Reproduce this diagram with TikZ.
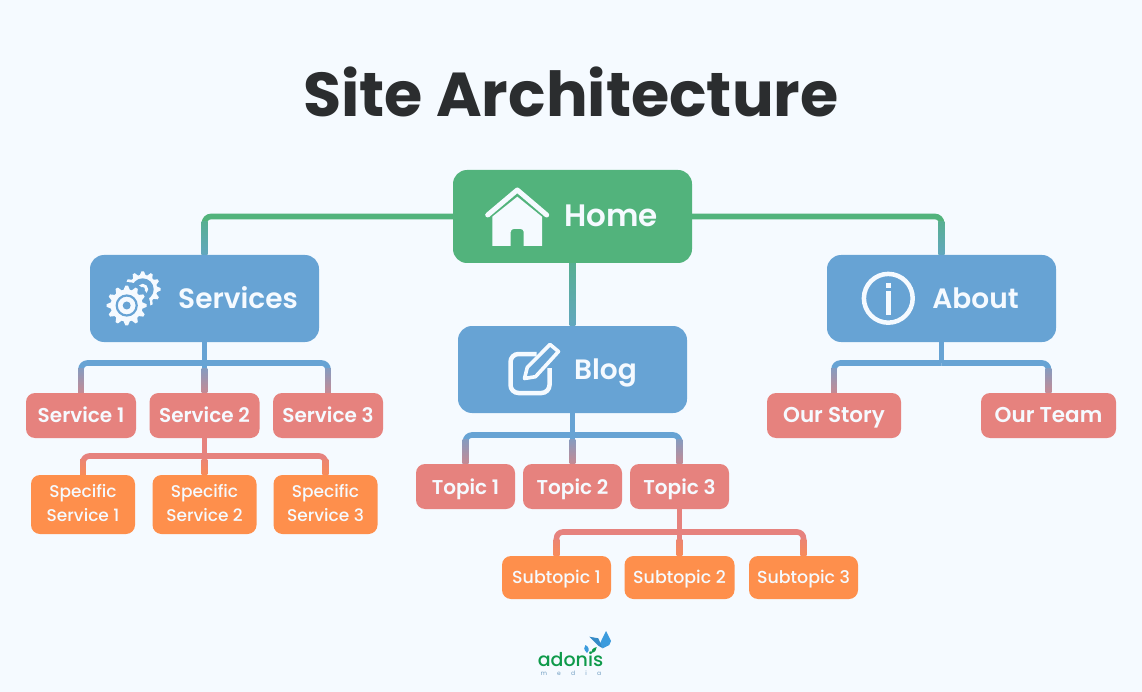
\documentclass[tikz,border=0pt]{standalone}
\usepackage{fontspec}
\setmainfont{Poppins}
\newfontfamily\psemi{Poppins}[UprightFont=* SemiBold]
\newfontfamily\pmed{Poppins}[UprightFont=* Medium]
\usetikzlibrary{calc}
\pgfdeclarelayer{backdrop}
\pgfdeclarelayer{links}
\pgfsetlayers{backdrop,links,main}
\definecolor{bgc}{HTML}{F5FAFF}
\definecolor{homec}{HTML}{52B37C}
\definecolor{secc}{HTML}{67A3D4}
\definecolor{thirdc}{HTML}{E6827E}
\definecolor{fourc}{HTML}{FE8F4C}
\definecolor{titlec}{HTML}{2B2D2F}
\definecolor{iconc}{HTML}{F5FAFF}
\definecolor{logog}{HTML}{0E9A4A}
\definecolor{logob}{HTML}{3B9BDD}
\definecolor{logom}{HTML}{6F9CC0}
\pgfdeclareverticalshading{fadegreen}{100bp}{color(0bp)=(secc); color(100bp)=(homec)}
\pgfdeclareverticalshading{fadeblue}{100bp}{color(0bp)=(thirdc); color(100bp)=(secc)}
\pgfdeclareverticalshading{fadered}{100bp}{color(0bp)=(fourc); color(100bp)=(thirdc)}
\tikzset{
  x=1pt,y=-1pt,
  boxbase/.style={anchor=center,text=iconc,inner sep=0pt,align=center},
  bigbox/.style={boxbase,fill=secc,rounded corners=14pt,minimum width=229pt,minimum height=87pt,
     font=\fontsize{28}{30}\psemi,text height=20pt,text depth=0pt},
  homebox/.style={bigbox,fill=homec,minimum width=239pt,minimum height=93pt,font=\fontsize{31}{32}\psemi},
  thirdbox/.style={boxbase,fill=thirdc,rounded corners=9pt,minimum height=45pt,
     font=\fontsize{20}{22}\psemi,text height=14pt,text depth=0pt},
  topicbox/.style={thirdbox,minimum width=99pt,text height=15pt},
  specbox/.style={boxbase,fill=fourc,rounded corners=9pt,minimum width=104pt,minimum height=59pt,
     font=\fontsize{17}{24}\pmed,text depth=4pt},
  subbox/.style={boxbase,fill=fourc,rounded corners=9pt,minimum width=109pt,minimum height=43pt,
     font=\fontsize{17.4}{24}\pmed,text height=11pt,text depth=0pt},
  conn/.style={line width=5.6pt,rounded corners=6.5pt},
  iconline/.style={draw=iconc,line width=4.5pt,fill=none},
}
% fade on the last stretch of a connector, above a node
\newcommand{\fadelink}[3]{%
  \shade[shading=#3] ($(#1.north)+(-2.8,-#2)$) rectangle ($(#1.north)+(2.8,0)$);}
\begin{document}
\begin{tikzpicture}
\useasboundingbox (0,0) rectangle (1142,692);
\begin{pgfonlayer}{backdrop}
\fill[bgc] (0,0) rectangle (1142,692);
\end{pgfonlayer}

\node[font=\fontsize{62}{66}\bfseries,text=titlec,inner sep=0pt,anchor=center] (title) at (571,92) {Site Architecture};

\path
 node[homebox] (home) at (572.5,216.5) {\hspace*{77pt}Home}
 node[bigbox] (services) at (204.5,298.5) {\hspace*{67pt}Services}
 node[bigbox] (blog) at (572.5,369.5) {\hspace*{66pt}Blog}
 node[bigbox] (about) at (941.5,298.5) {\hspace*{68pt}About}
 node[thirdbox,minimum width=110pt] (s1) at (81,415.5) {Service 1}
 node[thirdbox,minimum width=110pt] (s2) at (204.5,415.5) {Service 2}
 node[thirdbox,minimum width=110pt] (s3) at (328,415.5) {Service 3}
 node[specbox] (sp1) at (83,504.5) {Specific\\Service 1}
 node[specbox] (sp2) at (204.5,504.5) {Specific\\Service 2}
 node[specbox] (sp3) at (325.5,504.5) {Specific\\Service 3}
 node[topicbox] (t1) at (465.5,486.5) {Topic 1}
 node[topicbox] (t2) at (572.5,486.5) {Topic 2}
 node[topicbox] (t3) at (679.5,486.5) {Topic 3}
 node[subbox] (st1) at (556.5,577.5) {Subtopic 1}
 node[subbox,minimum width=110pt] (st2) at (679.5,577.5) {Subtopic 2}
 node[subbox] (st3) at (803.5,577.5) {Subtopic 3}
 node[thirdbox,minimum width=134pt,font=\fontsize{21.5}{22}\psemi] (o1) at (834,415.5) {Our Story}
 node[thirdbox,minimum width=135pt,font=\fontsize{21.5}{22}\psemi] (o2) at (1048.5,415.5) {Our Team};

\coordinate (js) at (204.5,363);
\coordinate (js2) at (204.5,456);
\coordinate (jb) at (572.5,435);
\coordinate (jt) at (679.5,532);
\coordinate (ja) at (941.5,363);

\begin{pgfonlayer}{links}
\draw[conn,homec] (home.west) -| (services.north);
\draw[conn,homec] (home.east) -| (about.north);
\draw[conn,homec] (home.south) -- (blog.north);
\fadelink{services}{33}{fadegreen}
\fadelink{about}{33}{fadegreen}
\fadelink{blog}{63}{fadegreen}
% Services
\draw[conn,secc] (services.south) -- (js);
\draw[conn,secc] (js) -| (s1.north);
\draw[conn,secc] (js) -| (s3.north);
\draw[conn,secc] (js) -- (s2.north);
\fadelink{s1}{24}{fadeblue}
\fadelink{s2}{24}{fadeblue}
\fadelink{s3}{24}{fadeblue}
% Service 2
\draw[conn,thirdc] (s2.south) -- (js2);
\draw[conn,thirdc] (js2) -| (sp1.north);
\draw[conn,thirdc] (js2) -| (sp3.north);
\draw[conn,thirdc] (js2) -- (sp2.north);
\fadelink{sp1}{15}{fadered}
\fadelink{sp2}{15}{fadered}
\fadelink{sp3}{15}{fadered}
% Blog
\draw[conn,secc] (blog.south) -- (jb);
\draw[conn,secc] (jb) -| (t1.north);
\draw[conn,secc] (jb) -| (t3.north);
\draw[conn,secc] (jb) -- (t2.north);
\fadelink{t1}{24}{fadeblue}
\fadelink{t2}{24}{fadeblue}
\fadelink{t3}{24}{fadeblue}
% Topic 3
\draw[conn,thirdc] (t3.south) -- (jt);
\draw[conn,thirdc] (jt) -| (st1.north);
\draw[conn,thirdc] (jt) -| (st3.north);
\draw[conn,thirdc] (jt) -- (st2.north);
\fadelink{st1}{16}{fadered}
\fadelink{st2}{16}{fadered}
\fadelink{st3}{16}{fadered}
% About
\draw[conn,secc] (about.south) -- (ja);
\draw[conn,secc] (ja) -| (o1.north);
\draw[conn,secc] (ja) -| (o2.north);
\fadelink{o1}{24}{fadeblue}
\fadelink{o2}{24}{fadeblue}
\end{pgfonlayer}

% house icon
\fill[iconc] (492.3,246) -- (492.3,216.7) -- (517.3,196.7) -- (542,216.7) -- (542,246)
  -- (523.7,246) -- (523.7,232) arc[start angle=0,end angle=-90,radius=3] -- (513.7,229)
  arc[start angle=-90,end angle=-180,radius=3] -- (510.7,246) -- cycle;
\draw[draw=iconc,line width=5pt,line cap=round,line join=round] (487.7,215) -- (517.3,190) -- (546.7,215);

% edit icon
\draw[iconline,rounded corners=8pt] (536.5,354) -- (510.5,354) -- (510.5,393) -- (549.5,393) -- (549.5,368);
\draw[draw=iconc,line width=3.6pt,line join=round] (524.5,378.5) -- (527.3,367.3) -- (550,344.5) -- (558.5,351.5) -- (535.5,376.7) -- cycle;

% info icon
\draw[iconline] (888.3,298.3) circle[radius=24.4];
\fill[iconc] (885.8,290.7) rectangle (890.8,315);
\fill[iconc] (885.8,282.8) rectangle (890.8,288);

% gears icon
\foreach \cx/\cy/\ro/\ri in {142.7/289.3/18/14.5}{
  \fill[iconc] plot[samples at={0,...,47},variable=\t]
    ({\cx+(mod(\t,4)<2?\ro:\ri)*cos((\t-0.5)*7.5)},{\cy+(mod(\t,4)<2?\ro:\ri)*sin((\t-0.5)*7.5)}) -- cycle;
}
\fill[secc] (142.7,289.3) circle[radius=11];
\fill[iconc] (142.7,289.3) circle[radius=5.5];
\fill[secc] (142.7,289.3) circle[radius=2.2];
\fill[secc] (126.7,305.5) circle[radius=23.5];
\foreach \cx/\cy/\ro/\ri in {126.7/305.5/20/16}{
  \fill[iconc] plot[samples at={0,...,47},variable=\t]
    ({\cx+(mod(\t,4)<2?\ro:\ri)*cos((\t-0.5)*7.5)},{\cy+(mod(\t,4)<2?\ro:\ri)*sin((\t-0.5)*7.5)}) -- cycle;
}
\draw[secc,line width=2.2pt] (126.7,305.5) circle[radius=10];
\fill[secc] (126.7,305.5) circle[radius=4];

% logo
\node[font=\fontsize{19}{20}\pmed,text=logog,inner sep=0pt,anchor=base] (logoa) at (570.5,666) {adonis};
\node[font=\fontsize{6}{7}\selectfont\addfontfeature{LetterSpace=170},text=logom,inner sep=0pt,anchor=base] (logomedia) at (571,675.5) {media};
\fill[logob] (606,631) -- (611,641) -- (609.3,645) -- (602.7,648.3) -- (600,643.3) -- cycle;
\fill[logob!90!black] (589.3,636.7) -- (598.3,638.3) -- (602.7,648.3) -- (598.3,645.7) -- cycle;
\fill[logob] (587,653) .. controls (583,649) and (584,647) .. (585.5,645) .. controls (589,647) and (590,650) .. (587,653);
\fill[logog] (591,653) .. controls (591,650) and (593,648) .. (596.7,647) .. controls (596.7,650) and (595,652.5) .. (591,653);
\end{tikzpicture}
\end{document}
